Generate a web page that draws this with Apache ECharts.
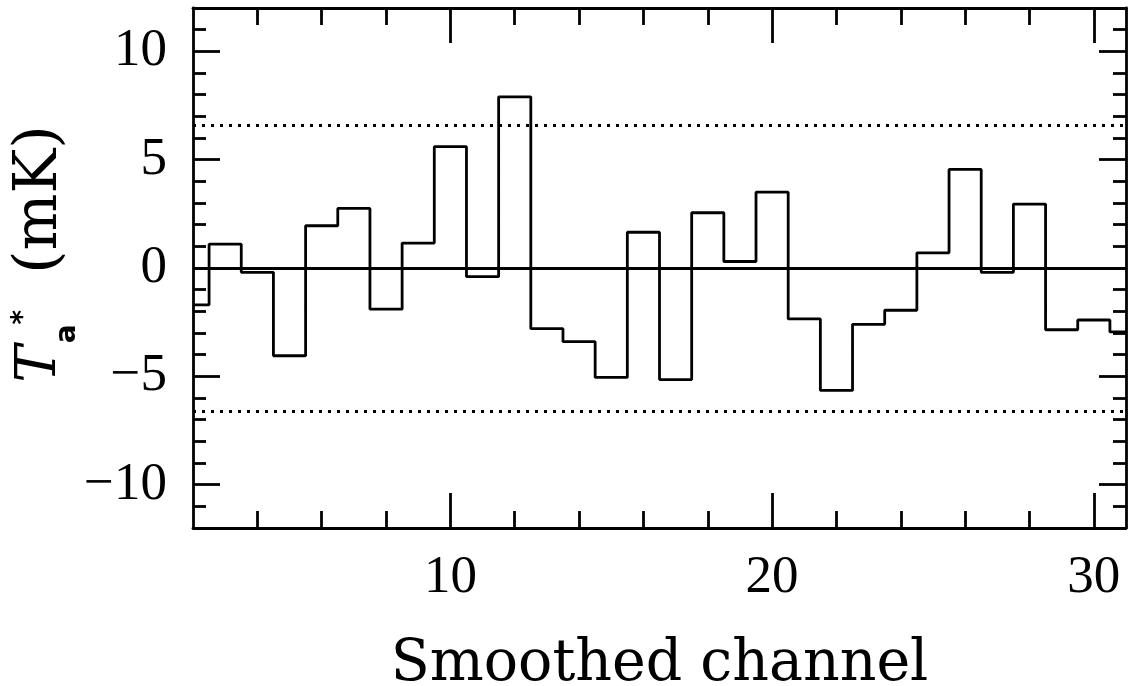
<!DOCTYPE html>
<html>
<head>
<meta charset="utf-8">
<script src="https://cdn.jsdelivr.net/npm/echarts@6/dist/echarts.min.js"></script>
<style>
html,body{margin:0;padding:0;background:#fff;}
#chart{width:1132px;height:686px;}
</style>
</head>
<body>
<div id="chart"></div>
<script>
// ---- data ----
const channels = [2,3,4,5,6,7,8,9,10,11,12,13,14,15,16,17,18,19,20,21,22,23,24,25,26,27,28,29,30,31];
const intensity = [-1.7,1.1,-0.2,-4.05,1.95,2.75,-1.9,1.15,5.6,-0.4,7.9,-2.8,-3.4,-5.05,1.65,-5.15,2.55,0.3,3.5,-2.35,-5.65,-2.6,-1.95,0.7,4.55,-0.2,2.95,-2.85,-2.4,-2.95];
const zeroLevel = [0];
const sigmaLevels = [6.6, -6.6];
const xMajorTicks = [10,20,30];
const xMinorTicks = [4,6,8,12,14,16,18,22,24,26,28];
const yMajorTicks = [-10,-5,0,5,10];
const yMinorTicks = [-11,-9,-8,-7,-6,-4,-3,-2,-1,1,2,3,4,6,7,8,9,11];
const xRange = [2,31];
const yRange = [-12,12];

const LW = 2.8;
const black = '#000';

function xAxisDef(pos, ticks, len, showLine, showLabel){
  return {
    type:'value', position:pos, min:xRange[0], max:xRange[1],
    axisLine:{show:showLine, onZero:false, lineStyle:{color:black,width:LW}},
    axisTick:{show:true, inside:true, length:len, customValues:ticks, lineStyle:{color:black,width:LW}},
    axisLabel:{show:showLabel, customValues:ticks, margin:24, color:black, fontFamily:'Liberation Serif', fontSize:53},
    splitLine:{show:false}
  };
}
function yAxisDef(pos, ticks, len, showLine, showLabel){
  return {
    type:'value', position:pos, min:yRange[0], max:yRange[1],
    axisLine:{show:showLine, onZero:false, lineStyle:{color:black,width:LW}},
    axisTick:{show:true, inside:true, length:len, customValues:ticks, lineStyle:{color:black,width:LW}},
    axisLabel:{show:showLabel, customValues:ticks, margin:26, color:black, fontFamily:'Liberation Serif', fontSize:53,
      formatter:function(v){ return v < 0 ? '\u2212' + Math.abs(v) : String(v); }},
    splitLine:{show:false}
  };
}

const xAxes = [
  xAxisDef('bottom', xMajorTicks, 35, true, true),
  xAxisDef('bottom', xMinorTicks, 17, false, false),
  xAxisDef('top', xMajorTicks, 35, true, false),
  xAxisDef('top', xMinorTicks, 17, false, false)
];
Object.assign(xAxes[0], {
  name:'Smoothed channel', nameLocation:'middle', nameGap:109, nameMoveOverlap:false,
  nameTextStyle:{color:black, fontFamily:'DejaVu Serif', fontSize:57}
});

const yAxes = [
  yAxisDef('left', yMajorTicks, 27, true, true),
  yAxisDef('left', yMinorTicks, 13, false, false),
  yAxisDef('right', yMajorTicks, 27, true, false),
  yAxisDef('right', yMinorTicks, 13, false, false)
];
Object.assign(yAxes[0], {
  name:'{t|T}{sub|a}{sup|*}{n|(mK)}', nameLocation:'middle', nameGap:111, nameRotate:90, nameMoveOverlap:false,
  nameTextStyle:{
    color:black,
    padding:[0,0,0,28],
    rich:{
      t:{fontFamily:'DejaVu Serif', fontStyle:'italic', fontSize:56, color:black, verticalAlign:'middle'},
      sub:{fontFamily:'DejaVu Sans', fontWeight:'bold', fontSize:28, color:black, padding:[56,0,0,2], verticalAlign:'middle'},
      sup:{fontFamily:'DejaVu Sans', fontWeight:'bold', fontSize:28, color:black, padding:[0,0,32,0], verticalAlign:'middle'},
      n:{fontFamily:'DejaVu Serif', fontSize:60, color:black, padding:[0,0,0,36], verticalAlign:'middle'}
    }
  }
});

const chart = echarts.init(document.getElementById('chart'), null, {renderer:'canvas'});
chart.setOption({
  backgroundColor:'#fff',
  animation:false,
  grid:{left:193, right:6, top:8, bottom:158, containLabel:false, outerBoundsMode:'none'},
  xAxis:xAxes,
  yAxis:yAxes,
  series:[
    {
      type:'line', step:'middle', xAxisIndex:0, yAxisIndex:0,
      data:channels.map((c,i)=>[c,intensity[i]]),
      symbol:'none',
      lineStyle:{color:black, width:LW},
      clip:true
    },
    {
      type:'line', xAxisIndex:0, yAxisIndex:0, data:[], symbol:'none',
      markLine:{
        silent:true, symbol:['none','none'], label:{show:false},
        data:zeroLevel.map(v=>({yAxis:v, lineStyle:{type:'solid', color:black, width:LW}}))
          .concat(sigmaLevels.map(v=>({yAxis:v, lineStyle:{type:[3,6], color:black, width:LW}})))
      }
    }
  ]
});
</script>
</body>
</html>
